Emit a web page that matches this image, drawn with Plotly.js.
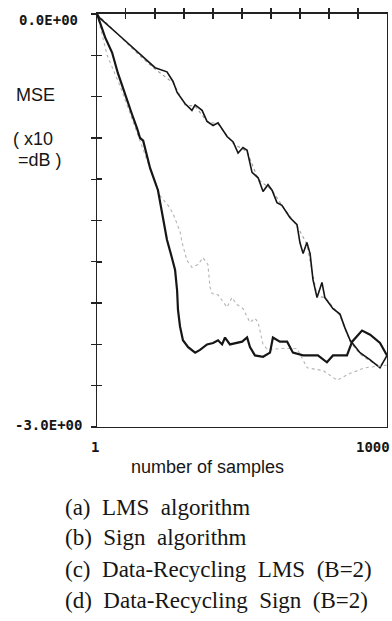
<!DOCTYPE html>
<html><head><meta charset="utf-8">
<script src="https://cdn.plot.ly/plotly-3.0.1.min.js"></script>
<style>html,body{margin:0;padding:0;background:#fff}#chart{width:392px;height:621px}</style>
</head><body><div id="chart"></div>
<script>
// (a) LMS algorithm
const lmsX = [1, 11, 80, 142, 201, 242, 263, 277, 304, 328, 339, 363, 380, 401, 418, 449, 470, 487, 504, 518, 535, 556, 573, 590, 604, 621, 638, 666, 690, 700, 711, 724, 735, 745, 759, 776, 786, 814, 838, 855, 873, 907, 941, 976, 1000];
const lmsY = [0, -0.03, -0.16, -0.28, -0.39, -0.42, -0.49, -0.57, -0.65, -0.70, -0.66, -0.70, -0.78, -0.81, -0.79, -0.89, -0.93, -1.01, -0.97, -0.99, -1.15, -1.19, -1.29, -1.24, -1.28, -1.37, -1.39, -1.48, -1.53, -1.66, -1.74, -1.66, -1.74, -1.93, -2.06, -1.95, -2.06, -2.14, -2.18, -2.28, -2.37, -2.46, -2.51, -2.57, -2.48];
// (b) Sign algorithm
const signX = [1, 80, 142, 201, 263, 304, 339, 380, 418, 470, 518, 556, 604, 638, 690, 724, 759, 786, 838, 873, 907, 941, 976, 1000];
const signY = [0, -0.16, -0.29, -0.40, -0.50, -0.66, -0.67, -0.78, -0.80, -0.94, -1.00, -1.20, -1.28, -1.39, -1.54, -1.67, -2.05, -2.06, -2.19, -2.38, -2.47, -2.52, -2.56, -2.49];
// (c) Data-Recycling LMS (B=2)
const drLmsX = [1, 29, 53, 73, 91, 108, 125, 139, 149, 160, 184, 211, 228, 242, 259, 270, 277, 280, 287, 297, 315, 339, 356, 380, 401, 418, 432, 442, 459, 483, 501, 518, 528, 545, 573, 597, 607, 631, 656, 676, 711, 725, 762, 793, 814, 862, 880, 914, 942, 976, 1000];
const drLmsY = [0, -0.17, -0.28, -0.43, -0.54, -0.65, -0.75, -0.83, -0.90, -0.92, -1.12, -1.28, -1.48, -1.64, -1.77, -1.86, -2.01, -2.15, -2.27, -2.37, -2.42, -2.46, -2.44, -2.40, -2.39, -2.37, -2.40, -2.35, -2.40, -2.39, -2.38, -2.35, -2.42, -2.48, -2.49, -2.46, -2.35, -2.38, -2.38, -2.46, -2.48, -2.48, -2.48, -2.53, -2.48, -2.48, -2.38, -2.30, -2.33, -2.39, -2.48];
// (d) Data-Recycling Sign (B=2)
const drSignX = [1, 36, 80, 139, 184, 218, 246, 263, 287, 294, 311, 328, 349, 366, 383, 390, 397, 418, 449, 466, 483, 504, 528, 545, 556, 573, 590, 631, 690, 725, 780, 828, 873, 924, 1000];
const drSignY = [0, -0.30, -0.52, -0.86, -1.13, -1.32, -1.39, -1.45, -1.58, -1.66, -1.79, -1.84, -1.82, -1.77, -1.82, -1.98, -2.03, -2.04, -2.13, -2.06, -2.11, -2.14, -2.24, -2.21, -2.24, -2.40, -2.44, -2.43, -2.43, -2.57, -2.59, -2.66, -2.61, -2.57, -2.55];

const xTicks = [100, 200, 300, 400, 500, 600, 700, 800, 900];
const yTicks = [0, -0.3, -0.6, -0.9, -1.2, -1.5, -1.8, -2.1, -2.4, -2.7, -3];
const yEndLabels = ['0.0E+00', '-3.0E+00'];
const xEndLabels = ['1', '1000'];
const xTitle = 'number of samples';
const yTitleLines = ['MSE', '( x10', '=dB )'];
const legendLines = [
  '(a)\u00a0 LMS\u00a0 algorithm',
  '(b)\u00a0 Sign\u00a0 algorithm',
  '(c)\u00a0 Data-Recycling\u00a0 LMS\u00a0 (B=2)',
  '(d)\u00a0 Data-Recycling\u00a0 Sign\u00a0 (B=2)'
];

const ink = '#161616';
const mono = {family: 'DejaVu Sans Mono, monospace', size: 14, color: ink, weight: 'bold'};
const sans = {family: 'Liberation Sans, Arial, sans-serif', size: 18, color: ink};
const serif = {family: 'Liberation Serif, Times New Roman, serif', size: 23, color: ink};

const traces = [
  {x: signX, y: signY, mode: 'lines', line: {color: '#9c9c9c', width: 1.1, dash: 'dot'}, hoverinfo: 'skip'},
  {x: lmsX, y: lmsY, mode: 'lines', line: {color: ink, width: 1.6}, hoverinfo: 'skip'},
  {x: drSignX, y: drSignY, mode: 'lines', line: {color: '#b4b4b4', width: 1.1, dash: 'dot'}, hoverinfo: 'skip'},
  {x: drLmsX, y: drLmsY, mode: 'lines', line: {color: ink, width: 2.2}, hoverinfo: 'skip'},
  // carriers for the tick-only overlay axes: a point on the common start of the curves
  {x: [lmsX[0]], y: [lmsY[0]], xaxis: 'x2', yaxis: 'y2', mode: 'markers', marker: {color: ink, size: 2}, hoverinfo: 'skip'},
  {x: [lmsX[0]], y: [lmsY[0]], xaxis: 'x3', yaxis: 'y2', mode: 'markers', marker: {color: ink, size: 2}, hoverinfo: 'skip'}
];

const annotations = [
  {text: yEndLabels[0], xref: 'paper', x: 0.24745, xanchor: 'right', xshift: -17, yref: 'y', y: 0, yanchor: 'middle', yshift: -6, showarrow: false, font: mono},
  {text: yEndLabels[1], xref: 'paper', x: 0.24745, xanchor: 'right', xshift: -13, yref: 'y', y: -3, yanchor: 'middle', yshift: 2, showarrow: false, font: mono},
  {text: xEndLabels[0], xref: 'x', x: 1, xanchor: 'center', xshift: -2, yref: 'paper', y: 0.2802, yanchor: 'middle', showarrow: false, font: mono},
  {text: xEndLabels[1], xref: 'x', x: 1000, xanchor: 'right', xshift: 5, yref: 'paper', y: 0.2802, yanchor: 'middle', showarrow: false, font: mono},
  {text: xTitle, xref: 'paper', x: 0.5281, xanchor: 'center', yref: 'paper', y: 0.2480, yanchor: 'middle', showarrow: false, font: sans},
  {text: yTitleLines[0], xref: 'paper', x: 0.0906, xanchor: 'center', yref: 'paper', y: 0.8470, yanchor: 'middle', showarrow: false, font: sans},
  {text: yTitleLines[1], xref: 'paper', x: 0.0286, xanchor: 'left', yref: 'paper', y: 0.7762, yanchor: 'middle', showarrow: false, font: sans},
  {text: yTitleLines[2], xref: 'paper', x: 0.0411, xanchor: 'left', yref: 'paper', y: 0.7424, yanchor: 'middle', showarrow: false, font: sans}
];
const legendY = [0.1820, 0.1337, 0.0837, 0.0338];
legendLines.forEach((t, i) => annotations.push({
  text: t, xref: 'paper', x: 0.1602, xanchor: 'left', yref: 'paper', y: legendY[i], yanchor: 'middle', showarrow: false, font: serif
}));

const tickAx = {showgrid: false, zeroline: false, showticklabels: false, tickcolor: '#222', tickwidth: 1.5};

const layout = {
  width: 392, height: 621,
  margin: {l: 0, r: 0, t: 0, b: 0},
  paper_bgcolor: '#fff', plot_bgcolor: '#fff',
  showlegend: false,
  xaxis: {domain: [0.24745, 0.98724], range: [1, 1000], showline: true, mirror: true, linecolor: '#222', linewidth: 1.5,
    ticks: '', showticklabels: false, showgrid: false, zeroline: false},
  yaxis: {domain: [0.31240, 0.97746], range: [-3, 0], showline: true, mirror: true, linecolor: '#222', linewidth: 1.5,
    ticks: 'outside', ticklen: 5, tickcolor: '#222', tickwidth: 1.3, tickvals: yTicks,
    showticklabels: false, showgrid: false, zeroline: false},
  xaxis2: Object.assign({}, tickAx, {range: [1, 1000], overlaying: 'x', side: 'top',
    ticks: 'outside', ticklen: 5, tickvals: xTicks}),
  xaxis3: Object.assign({}, tickAx, {range: [1, 1000], overlaying: 'x', side: 'top',
    ticks: 'inside', ticklen: 5, tickvals: xTicks}),
  yaxis2: Object.assign({}, tickAx, {range: [-3, 0], overlaying: 'y', side: 'left',
    ticks: 'inside', ticklen: 5, tickvals: yTicks}),
  annotations: annotations
};

Plotly.newPlot('chart', traces, layout, {staticPlot: true, displayModeBar: false});
</script>
</body></html>
